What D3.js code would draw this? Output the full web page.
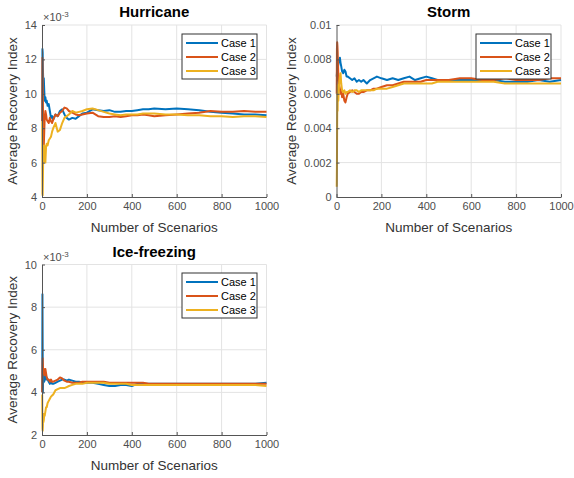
<!DOCTYPE html>
<html>
<head>
    <meta charset="utf-8">
    <title>Average Recovery Index</title>
    <style>
        * { margin: 0; padding: 0; }
        body { background: #fff; }
        svg text { font-family: "Liberation Sans", Arial, sans-serif; }
    </style>
    <script src="https://cdn.jsdelivr.net/npm/d3@7/dist/d3.min.js"></script>
</head>
<body>
<div id="root"></div>
<script>
    // shared x positions (number of scenarios)
    var scenarios = [1, 2, 3, 4, 5, 6, 8, 10, 12, 15, 18, 21, 25, 30, 35, 40, 45, 50, 60, 70, 80, 90, 100,
        110, 120, 135, 150, 165, 180, 200, 225, 250, 275, 300, 325, 350, 375, 400, 425, 450, 475, 500,
        550, 600, 650, 700, 750, 800, 850, 900, 950, 1000];
    var caseNames = ["Case 1", "Case 2", "Case 3"];
    var xTicks = [0, 200, 400, 600, 800, 1000];

    // Hurricane (x 1e-3)
    var hurCase1 = [8.4, 12.6, 12.4, 11.5, 11.0, 10.6, 10.9, 10.2, 9.6, 9.8, 9.5, 9.6, 9.3, 9.4, 9.0, 8.6, 8.7, 8.5, 8.8, 8.7, 9.0, 9.1, 8.8,
        8.6, 8.5, 8.6, 8.55, 8.7, 8.85, 8.9, 9.1, 9.05, 9.0, 9.05, 8.95, 8.95, 9.0, 9.0, 9.05, 9.1, 9.1, 9.15,
        9.1, 9.15, 9.1, 9.05, 8.95, 8.9, 8.85, 8.8, 8.8, 8.75];
    var hurCase2 = [8.4, 12.1, 10.5, 9.5, 8.4, 8.3, 7.0, 7.8, 8.6, 9.0, 8.8, 8.5, 8.4, 8.3, 8.6, 8.4, 8.3, 8.5, 8.8, 8.7, 8.9, 9.0, 9.2,
        9.15, 9.0, 8.9, 8.8, 8.75, 8.8, 8.85, 8.9, 8.7, 8.65, 8.65, 8.7, 8.65, 8.7, 8.75, 8.75, 8.8, 8.75, 8.7,
        8.75, 8.8, 8.85, 8.9, 9.0, 8.95, 8.95, 9.0, 8.95, 8.95];
    var hurCase3 = [8.4, 4.2, 4.1, 5.0, 6.0, 6.8, 6.5, 7.0, 6.2, 6.0, 6.9, 7.1, 7.0, 7.3, 7.4, 7.5, 7.8, 8.0, 8.3, 7.8, 7.9, 8.3, 8.6,
        8.7, 8.8, 9.0, 8.9, 8.95, 9.0, 9.1, 9.15, 9.05, 8.95, 8.85, 8.8, 8.75, 8.8, 8.8, 8.8, 8.85, 8.85, 8.85,
        8.8, 8.8, 8.75, 8.75, 8.7, 8.7, 8.65, 8.7, 8.7, 8.65];
    var hurYTicks = [4, 6, 8, 10, 12, 14];

    // Storm
    var stormCase1 = [0.0070, 0.0072, 0.0076, 0.0074, 0.0078, 0.0075, 0.0077, 0.0080, 0.0079, 0.0081, 0.0078, 0.0076, 0.0073, 0.0072, 0.0074, 0.0073, 0.0070, 0.0070, 0.0069, 0.0068, 0.0069, 0.0067, 0.0068,
        0.0067, 0.0068, 0.0066, 0.0068, 0.0069, 0.0070, 0.0069, 0.0068, 0.0069, 0.0068, 0.0069, 0.0070, 0.0068, 0.0069, 0.0070, 0.0069, 0.0068, 0.0068, 0.0068,
        0.0068, 0.0068, 0.0068, 0.0068, 0.0067, 0.0067, 0.0067, 0.0068, 0.0067, 0.0068];
    var stormCase2 = [0.0060, 0.0086, 0.0090, 0.0088, 0.0085, 0.0080, 0.0072, 0.0068, 0.0065, 0.0063, 0.0060, 0.0062, 0.0058, 0.0060, 0.0056, 0.0055, 0.0058, 0.0060, 0.0061, 0.0062, 0.0061, 0.0060, 0.0060,
        0.0061, 0.0061, 0.0062, 0.0062, 0.0063, 0.0063, 0.0064, 0.0065, 0.0065, 0.0066, 0.0067, 0.0067, 0.0067, 0.0067, 0.0068, 0.0068, 0.0068, 0.0068, 0.0068,
        0.0069, 0.0069, 0.0068, 0.0068, 0.0069, 0.0068, 0.0068, 0.0068, 0.0069, 0.0069];
    var stormCase3 = [0.0006, 0.0020, 0.0045, 0.0060, 0.0050, 0.0065, 0.0056, 0.0062, 0.0066, 0.0070, 0.0072, 0.0066, 0.0062, 0.0061, 0.0062, 0.0060, 0.0061, 0.0061, 0.0062, 0.0061, 0.0062, 0.0062, 0.0061,
        0.0062, 0.0062, 0.0062, 0.0062, 0.0062, 0.0063, 0.0063, 0.0063, 0.0064, 0.0065, 0.0066, 0.0066, 0.0066, 0.0066, 0.0066, 0.0066, 0.0067, 0.0067, 0.0067,
        0.0067, 0.0067, 0.0067, 0.0067, 0.0066, 0.0066, 0.0066, 0.0066, 0.0066, 0.0066];
    var stormYTicks = [0, 0.002, 0.004, 0.006, 0.008, 0.01];

    // Ice-freezing (x 1e-3)
    var iceCase1 = [4.0, 8.6, 6.0, 4.0, 4.6, 5.0, 4.6, 4.5, 4.7, 4.8, 4.6, 4.7, 4.6, 4.5, 4.4, 4.5, 4.4, 4.4, 4.45, 4.5, 4.55, 4.6, 4.6,
        4.55, 4.6, 4.55, 4.5, 4.5, 4.45, 4.45, 4.45, 4.4, 4.35, 4.3, 4.3, 4.35, 4.35, 4.3, 4.4, 4.4, 4.4, 4.4,
        4.4, 4.4, 4.4, 4.4, 4.4, 4.4, 4.4, 4.4, 4.4, 4.45];
    var iceCase2 = [4.0, 5.2, 5.6, 5.3, 5.0, 4.9, 5.1, 5.0, 4.8, 5.1, 4.9, 4.7, 4.6, 4.6, 4.5, 4.6, 4.5, 4.5, 4.55, 4.6, 4.7, 4.65, 4.55,
        4.5, 4.5, 4.45, 4.45, 4.45, 4.5, 4.5, 4.5, 4.5, 4.5, 4.45, 4.45, 4.45, 4.45, 4.45, 4.45, 4.45, 4.4, 4.4,
        4.4, 4.4, 4.4, 4.4, 4.4, 4.4, 4.4, 4.4, 4.4, 4.4];
    var iceCase3 = [3.9, 2.3, 2.2, 2.4, 2.8, 2.6, 2.7, 3.0, 2.9, 3.1, 3.3, 3.3, 3.5, 3.6, 3.7, 3.8, 3.85, 3.9, 4.1, 4.15, 4.2, 4.2, 4.2,
        4.25, 4.3, 4.35, 4.4, 4.4, 4.4, 4.45, 4.45, 4.45, 4.45, 4.4, 4.4, 4.4, 4.4, 4.35, 4.35, 4.35, 4.35, 4.35,
        4.35, 4.35, 4.35, 4.35, 4.35, 4.35, 4.35, 4.35, 4.35, 4.3];
    var iceYTicks = [2, 4, 6, 8, 10];

    var colors = ["#0072BD", "#D95319", "#EDB120"];

    var width = 574, height = 478;
    var svg = d3.select("#root").append("svg").attr("width", width).attr("height", height);

    function renderPanel(opt) {
        var x = d3.scaleLinear().domain([0, 1000]).range([opt.left, opt.right]);
        var y = d3.scaleLinear().domain([opt.yTicks[0], opt.yTicks[opt.yTicks.length - 1]]).range([opt.bottom, opt.top]);
        var g = svg.append("g");

        // grid
        g.append("g").selectAll("line").data(xTicks.slice(1)).enter().append("line")
            .attr("x1", function (d) { return x(d); }).attr("x2", function (d) { return x(d); })
            .attr("y1", opt.top).attr("y2", opt.bottom)
            .attr("stroke", "#e3e3e3").attr("stroke-width", 1);
        g.append("g").selectAll("line").data(opt.yTicks.slice(1)).enter().append("line")
            .attr("x1", opt.left).attr("x2", opt.right)
            .attr("y1", function (d) { return y(d); }).attr("y2", function (d) { return y(d); })
            .attr("stroke", "#e3e3e3").attr("stroke-width", 1);

        // lines
        var line = d3.line()
            .x(function (d) { return x(d[0]); })
            .y(function (d) { return y(d[1]); });
        opt.series.forEach(function (s, i) {
            var pts = scenarios.map(function (sx, j) { return [sx, s[j]]; });
            g.append("path").datum(pts)
                .attr("d", line)
                .attr("fill", "none")
                .attr("stroke", colors[i])
                .attr("stroke-width", 2)
                .attr("stroke-linejoin", "round");
        });

        // axes
        var xAxis = d3.axisBottom(x).tickValues(xTicks).tickSize(-3).tickSizeOuter(0).tickPadding(5)
            .tickFormat(d3.format("d"));
        var gx = g.append("g").attr("transform", "translate(0," + opt.bottom + ")").call(xAxis);
        var yAxis = d3.axisLeft(y).tickValues(opt.yTicks).tickSize(-3).tickSizeOuter(0).tickPadding(5)
            .tickFormat(opt.yFormat);
        var gy = g.append("g").attr("transform", "translate(" + opt.left + ",0)").call(yAxis);
        [gx, gy].forEach(function (a) {
            a.attr("font-family", null);
            a.select(".domain").attr("stroke", "#555");
            a.selectAll(".tick line").attr("stroke", "#555");
            a.selectAll(".tick text").attr("fill", "#4d4d4d").style("font-size", "11px");
        });

        // exponent
        if (opt.exponent) {
            var t = g.append("text").attr("x", opt.left + 1).attr("y", opt.top - 4)
                .attr("fill", "#4d4d4d").style("font-size", "11px");
            t.append("tspan").text("\u00d710");
            t.append("tspan").attr("dy", -4).style("font-size", "8px").text("-3");
        }

        // title
        g.append("text").attr("x", (opt.left + opt.right) / 2).attr("y", opt.top - 8)
            .attr("text-anchor", "middle").style("font-size", "15px").style("font-weight", "bold")
            .attr("fill", "#000").text(opt.title);

        // axis labels
        g.append("text").attr("x", (opt.left + opt.right) / 2).attr("y", opt.bottom + 35)
            .attr("text-anchor", "middle").style("font-size", "13.5px").attr("fill", "#333")
            .text("Number of Scenarios");
        g.append("text")
            .attr("transform", "translate(" + opt.ylabelX + "," + (opt.top + opt.bottom) / 2 + ") rotate(-90)")
            .attr("text-anchor", "middle").style("font-size", "13.5px").attr("fill", "#333")
            .text("Average Recovery Index");

        // legend
        var lg = g.append("g").attr("transform", "translate(" + opt.legendX + "," + opt.legendY + ")");
        lg.append("rect").attr("x", 0).attr("y", 0).attr("width", 75).attr("height", 45)
            .attr("fill", "#fff").attr("stroke", "#333").attr("stroke-width", 1);
        caseNames.forEach(function (name, i) {
            var ry = 9 + i * 14;
            lg.append("line").attr("x1", 4).attr("x2", 36).attr("y1", ry).attr("y2", ry)
                .attr("stroke", colors[i]).attr("stroke-width", 2);
            lg.append("text").attr("x", 39).attr("y", ry + 4).style("font-size", "11px")
                .attr("fill", "#000").text(name);
        });
    }

    var fmtPlain = function (d) { return String(d); };
    var fmtStorm = function (d) { return d === 0 ? "0" : String(+d.toFixed(3)); };

    renderPanel({
        title: "Hurricane", left: 42, right: 266.5, top: 25, bottom: 197,
        yTicks: hurYTicks, yFormat: fmtPlain, exponent: true,
        series: [hurCase1, hurCase2, hurCase3], ylabelX: 17, legendX: 182, legendY: 34
    });
    renderPanel({
        title: "Storm", left: 336.5, right: 561, top: 25, bottom: 197,
        yTicks: stormYTicks, yFormat: fmtStorm, exponent: false,
        series: [stormCase1, stormCase2, stormCase3], ylabelX: 296, legendX: 476, legendY: 34
    });
    renderPanel({
        title: "Ice-freezing", left: 42, right: 266.5, top: 264.5, bottom: 435,
        yTicks: iceYTicks, yFormat: fmtPlain, exponent: true,
        series: [iceCase1, iceCase2, iceCase3], ylabelX: 17, legendX: 182, legendY: 273
    });
</script>
</body>
</html>
